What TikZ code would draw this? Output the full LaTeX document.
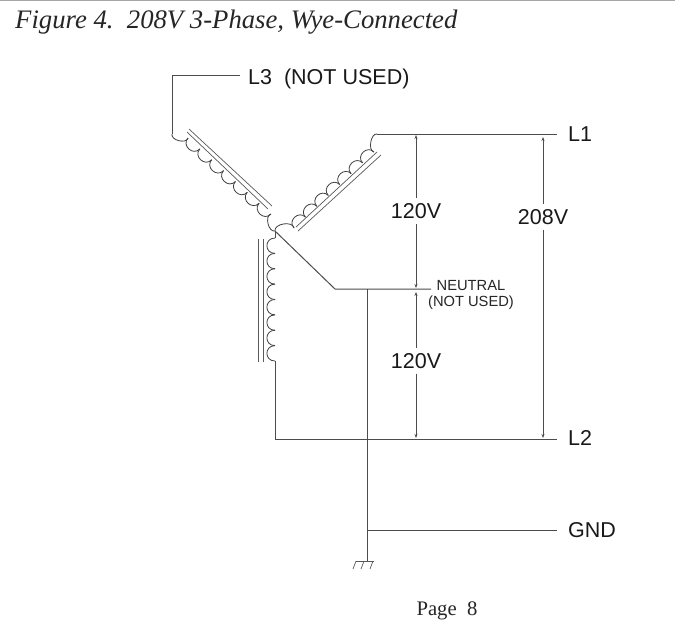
\documentclass[tikz,border=0pt]{standalone}
\usepackage{fontspec}
\setmainfont{Liberation Serif}
\newfontfamily\labelfont{Liberation Sans}
\usetikzlibrary{arrows.meta}
\usetikzlibrary{calc}

% a run of winding humps between two named points
\newcommand{\windingrun}[4]{
	\foreach \k [evaluate=\k as \j using \k-1] in {1,...,#3}
		\draw [winding] ($(#1)!\j/#3!(#2)$) to[#4] ($(#1)!\k/#3!(#2)$);
}

\begin{document}
\begin{tikzpicture}[
		x=1pt,
		y=-1pt,
		>={Stealth[length=4pt,width=3pt]},
		wire/.style={draw=black!70, line width=1pt},
		winding/.style={draw=black!75, line width=0.8pt, bend angle=90, looseness=1.6},
		core/.style={draw=black!65, line width=0.7pt},
		volt/.style={draw=black!70, line width=0.8pt},
		term/.style={font=\labelfont\fontsize{21.5}{21.5}\selectfont, text=black!90, inner sep=0pt},
		small/.style={font=\labelfont\fontsize{14.7}{16}\selectfont, text=black!85, align=center, inner sep=0pt},
	]
		\useasboundingbox (0,0) rectangle (675,633);
		\fill [white] (0,0) rectangle (675,633);
		\draw [black!35, line width=1.2pt] (0,0.5) -- (675,0.5);

		% texts
		\node [anchor=west, inner sep=0pt, font=\itshape\fontsize{26.7}{26.7}\selectfont, text=black!85] (title) at (15,22) {Figure 4.\ \ 208V 3-Phase, Wye-Connected};
		\node [font=\fontsize{20.7}{20.7}\selectfont, inner sep=0pt, text=black!85] (page) at (447,611) {Page\ \ 8};

		% terminals
		\node [term, anchor=west] (l3) at (248,78.5) {L3\ \ (NOT USED)};
		\node [term, anchor=west] (l1) at (568,134) {L1};
		\node [term, anchor=west] (l2) at (568,438) {L2};
		\node [term, anchor=west] (gnd) at (568,530) {GND};
		\node [small] (neutral) at (471,295) {NEUTRAL\\(NOT USED)};

		% junctions
		\coordinate (star) at (275,231);
		\coordinate (l3a) at (172,75);
		\coordinate (l3b) at (172,134);
		\coordinate (l3c) at (188,138);
		\coordinate (l3d) at (271,214);
		\coordinate (l1a) at (294,228);
		\coordinate (l1b) at (374,152);
		\coordinate (l1c) at (377,134);
		\coordinate (l2a) at (275,238);
		\coordinate (l2b) at (275,361);
		\coordinate (l2c) at (275,439);
		\coordinate (na) at (335,289);
		\coordinate (nb) at (431,289);
		\coordinate (ga) at (367,289);
		\coordinate (gb) at (367,530);
		\coordinate (gc) at (367,561);

		% windings
		\windingrun{l3b}{l3c}{1}{bend right, looseness=1}
		\windingrun{l3c}{l3d}{7}{bend right}
		\windingrun{l3d}{star}{1}{bend right, looseness=1}
		\windingrun{star}{l1a}{1}{bend left, looseness=1}
		\windingrun{l1a}{l1b}{7}{bend left}
		\windingrun{l1b}{l1c}{1}{bend left, looseness=0.9}
		\windingrun{l2a}{l2b}{8}{bend right, looseness=1.8}

		% cores
		\draw [core] (187,132) -- (268,209);
		\draw [core] (189,129) -- (272,206);
		\draw [core] (296,227) -- (377,152);
		\draw [core] (298,231) -- (381,155);
		\draw [core] (258,239) -- (258,362);
		\draw [core] (263,239) -- (263,362);

		% wires
		\draw [wire] (240,75) -- (l3a) -- (l3b);
		\draw [wire] (l1c) -- (557,134) coordinate (l1end);
		\draw [wire] (star) -- (l2a);
		\draw [wire] (l2b) -- (l2c) -- (557,439) coordinate (l2end);
		\draw [wire] (star) -- (na) -- (nb);
		\draw [wire] (ga) -- (gc);
		\draw [wire] (gb) -- (557,530) coordinate (gndend);

		% ground
		\draw [core] (356,561) -- (374,561);
		\foreach \gx in {356,364,373}
			\draw [core] (\gx,561) -- ++(-3,8);

		% voltages
		\node [term, fill=white, inner xsep=0pt, inner ysep=5pt] (v1) at (416,211) {120V};
		\node [term, fill=white, inner xsep=0pt, inner ysep=5pt] (v2) at (416,361) {120V};
		\node [term, fill=white, inner xsep=0pt, inner ysep=5pt] (v3) at (543,217) {208V};
		\draw [volt, ->] (v1) -- (416,135);
		\draw [volt, ->] (v1) -- (416,288);
		\draw [volt, ->] (v2) -- (416,292);
		\draw [volt, ->] (v2) -- (416,438);
		\draw [volt, ->] (v3) -- (543,137);
		\draw [volt, ->] (v3) -- (543,438);
	\end{tikzpicture}
\end{document}
